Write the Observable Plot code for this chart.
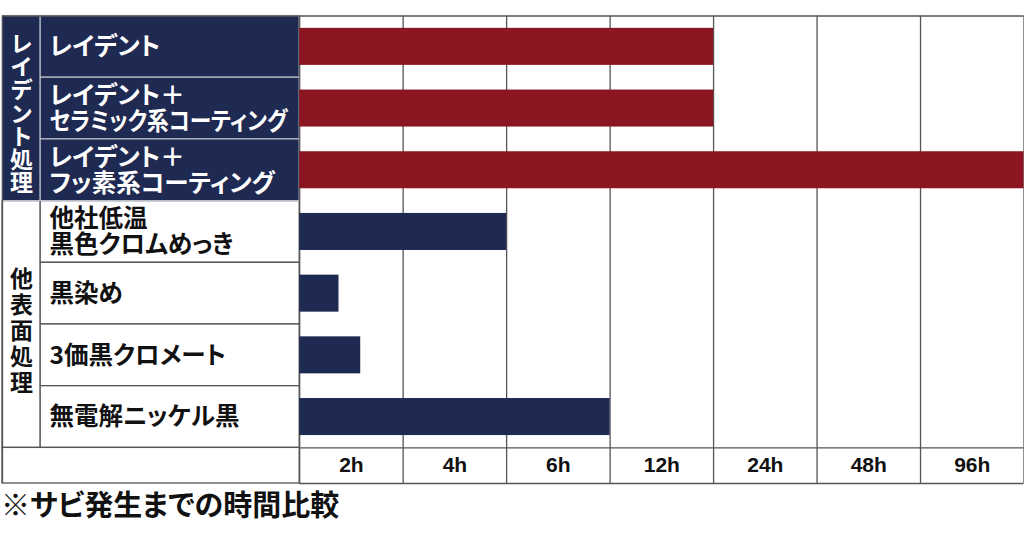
<!DOCTYPE html>
<html><head><meta charset="utf-8">
<script src="https://cdn.jsdelivr.net/npm/d3@7"></script>
<script src="https://cdn.jsdelivr.net/npm/@observablehq/plot@0.6"></script>
<style>
body{margin:0;background:#fff;}
#chart svg text{font-feature-settings:"palt";}
.caption{font-family:"Noto Sans CJK JP";font-weight:700;font-size:29px;line-height:34px;margin-left:1px;color:#111;font-feature-settings:"palt";}
</style></head><body><div id="chart"></div><div class="caption">※サビ発生までの時間比較</div>
<script>
// Data
const groups = ["レイデント処理", "他表面処理"];
const categories = [
  "レイデント",
  "レイデント＋\nセラミック系コーティング",
  "レイデント＋\nフッ素系コーティング",
  "他社低温\n黒色クロムめっき",
  "黒染め",
  "3価黒クロメート",
  "無電解ニッケル黒"
];
const categoryGroup = [0, 0, 0, 1, 1, 1, 1];
// time until rust, in units of the time columns
const values = [4, 4, 7, 2, 0.38, 0.59, 3];
const tickLabels = ["2h", "4h", "6h", "12h", "24h", "48h", "96h"];

const navy = "#1f2a52", red = "#8b1520", line = "#555", lightLine = "#b9bdca";

// table layout (in column units)
const labelColStart = -2.505, groupColStart = -2.872, axisRow = 0.577;
const maxLabelWidth = 238;

const rows = categories.map((c, i) => ({label: c, g: categoryGroup[i], row: i, value: values[i]}));
const groupCells = groups.map((g, k) => {
  const idx = categoryGroup.map((v, i) => v === k ? i : -1).filter(i => i >= 0);
  return {group: g, g: k, start: idx[0], end: idx[idx.length - 1] + 1};
});
const ticks = tickLabels.map((t, i) => ({label: t, pos: i + 0.5}));
const nRows = categories.length;
const nCols = tickLabels.length;
const bottom = nRows + axisRow;

const chart = Plot.plot({
  width: 1024,
  height: 486,
  margin: 0,
  x: {domain: [groupColStart, nCols], range: [2, 1023.5], axis: null},
  y: {domain: [0, bottom], range: [15.5, 483], axis: null},
  color: {type: "identity"},
  marks: [
    // label cells
    Plot.rect(rows.filter(d => d.g === 1), {x1: labelColStart, x2: 0, y1: "row", y2: d => d.row + 1, fill: "white", stroke: line, strokeWidth: 1.3}),
    Plot.rect(groupCells.filter(d => d.g === 1), {x1: groupColStart, x2: labelColStart, y1: "start", y2: "end", fill: "white", stroke: line, strokeWidth: 1.3}),
    Plot.rect(rows.filter(d => d.g === 0), {x1: labelColStart, x2: 0, y1: "row", y2: d => d.row + 1, fill: navy, stroke: lightLine, strokeWidth: 1.2}),
    Plot.rect(groupCells.filter(d => d.g === 0), {x1: groupColStart, x2: labelColStart, y1: "start", y2: "end", fill: navy, stroke: lightLine, strokeWidth: 1.2}),
    // axis row left cell
    Plot.rect([null], {x1: groupColStart, x2: 0, y1: nRows, y2: bottom, fill: "white", stroke: line, strokeWidth: 1.3}),
    // grid in bar area
    Plot.ruleX(d3.range(nCols + 1), {y1: 0, y2: bottom, stroke: line, strokeWidth: 1.3}),
    Plot.ruleY([0, nRows, bottom], {x1: 0, x2: nCols, stroke: line, strokeWidth: 1.3}),
    Plot.ruleY([0], {x1: groupColStart, x2: 0, stroke: line, strokeWidth: 1.3}),
    Plot.ruleX([groupColStart], {y1: 0, y2: bottom, stroke: line, strokeWidth: 1.3}),
    // bars
    Plot.rect(rows, {x1: 0, x2: "value", y1: d => d.row + 0.2, y2: d => d.row + 0.8, fill: d => d.g === 0 ? red : navy}),
    // category labels
    Plot.text(rows, {x: labelColStart, y: d => d.row + 0.5, text: "label", dx: 9, textAnchor: "start", fill: d => d.g === 0 ? "white" : "#111",
      fontSize: 24.5, fontWeight: "bold", fontFamily: "Noto Sans CJK JP", lineHeight: 1.07}),
    // group labels (vertical)
    Plot.text(groupCells, {x: (groupColStart + labelColStart) / 2, y: d => (d.start + d.end) / 2, text: "group",
      fill: d => d.g === 0 ? "white" : "#111", fontSize: 23, fontWeight: "bold", fontFamily: "Noto Sans CJK JP"}),
    // tick labels
    Plot.text(ticks, {x: "pos", y: nRows + axisRow / 2, text: "label", fontSize: 21, fontWeight: "bold", fontFamily: "Liberation Sans", fill: "#111"})
  ]
});
document.getElementById("chart").appendChild(chart);

// vertical writing for the group labels; fit long category lines into the cell
const flat = categories.map(c => c.replace(/\n/g, ""));
chart.querySelectorAll("text").forEach(t => {
  const k = groups.indexOf(t.textContent);
  if (k >= 0) {
    t.style.writingMode = "vertical-rl";
    t.style.textOrientation = "upright";
    t.style.fontFeatureSettings = "normal";
    t.setAttribute("dy", k === 0 ? "-3" : "0");
    t.style.letterSpacing = k === 0 ? "0.3px" : "3px";
  } else if (flat.includes(t.textContent)) {
    const parts = t.querySelectorAll("tspan").length ? t.querySelectorAll("tspan") : [t];
    parts.forEach(p => {
      const w = p.getComputedTextLength();
      if (w > maxLabelWidth) {
        p.setAttribute("textLength", maxLabelWidth);
        p.setAttribute("lengthAdjust", "spacingAndGlyphs");
      }
    });
  }
});
</script></body></html>
